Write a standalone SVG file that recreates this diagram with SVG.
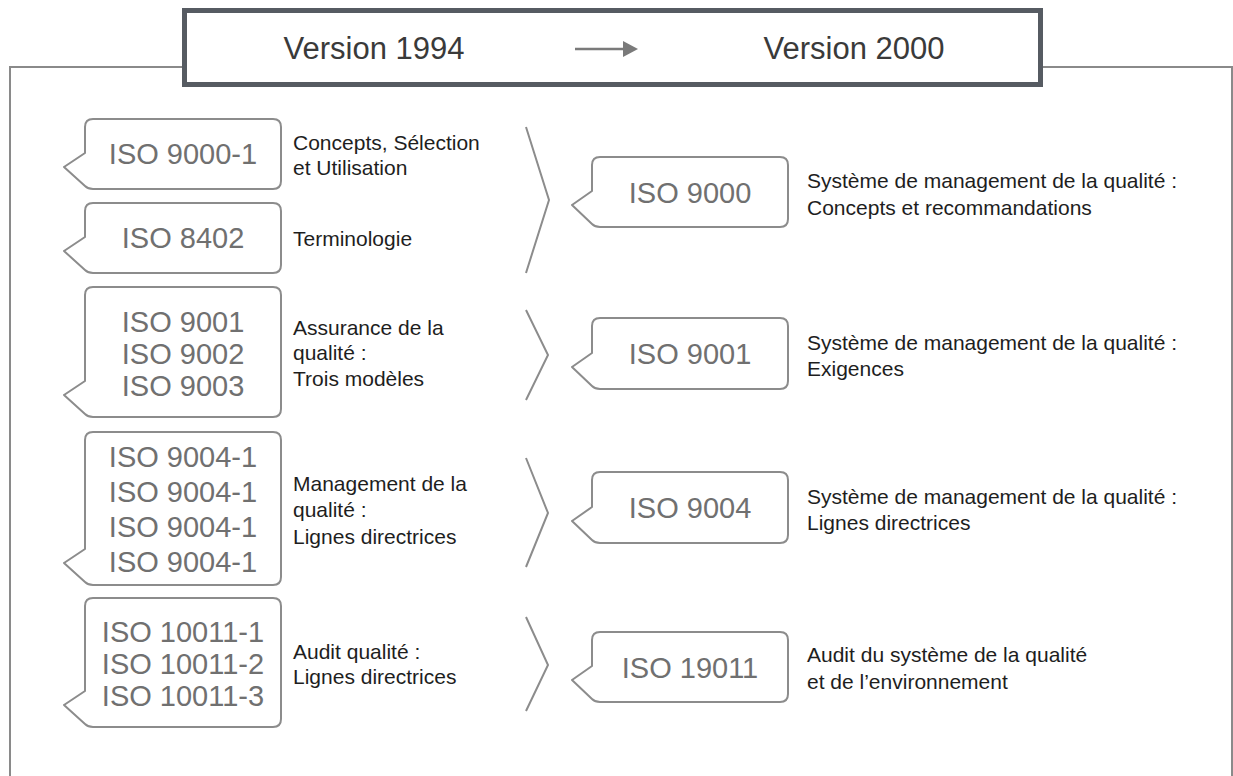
<svg xmlns="http://www.w3.org/2000/svg" width="1233" height="776" viewBox="0 0 1233 776">
<style>
.frame{fill:none;stroke:#8a8a8a;stroke-width:2}
.hdr{fill:#fff;stroke:#565b62;stroke-width:5}
.htx{font-family:"Liberation Sans",Arial,sans-serif;font-size:31px;fill:#3a3a3a;text-anchor:middle}
.co{fill:#fff;stroke:#8c8c8c;stroke-width:2;stroke-linejoin:round}
.ct{font-family:"Liberation Sans",Arial,sans-serif;font-size:29px;fill:#707070;text-anchor:middle}
.dt{font-family:"Liberation Sans",Arial,sans-serif;font-size:21px;fill:#1e1e1e}
.chev{fill:none;stroke:#8c8c8c;stroke-width:2}
.arr{stroke:#7a7a7a;stroke-width:2.5;fill:none}
</style>
<rect class="frame" x="10" y="67" width="1222" height="720"/>
<g id="header">
<rect class="hdr" x="184.5" y="10.5" width="856" height="74"/>
<text class="htx" x="374" y="59">Version 1994</text>
<text class="htx" x="854" y="59">Version 2000</text>
</g>
<g id="connectors">
<line class="arr" x1="575" y1="49" x2="624" y2="49"/>
<path d="M623,41 L638,49 L623,57 Z" fill="#7a7a7a"/>
<polyline class="chev" points="526,127 549,200 526,273"/>
<polyline class="chev" points="526,310 548,355 526,400"/>
<polyline class="chev" points="526,458 548,513 526,567"/>
<polyline class="chev" points="526,617 548,665 526,711"/>
</g>
<g id="old-9000-1">
<path class="co" d="M93,119 H273 Q281,119 281,127 V181 Q281,189 273,189 H93 Q88,189 85,186 L64,167 L85,153 V127 Q85,119 93,119 Z"/>
<text class="ct" x="183" y="164">ISO 9000-1</text>
<text class="dt" x="293" y="150">Concepts, Sélection</text>
<text class="dt" x="293" y="175">et Utilisation</text>
</g>
<g id="old-8402">
<path class="co" d="M93,203 H273 Q281,203 281,211 V265 Q281,273 273,273 H93 Q88,273 85,270 L64,251 L85,237 V211 Q85,203 93,203 Z"/>
<text class="ct" x="183" y="248">ISO 8402</text>
<text class="dt" x="293" y="246">Terminologie</text>
</g>
<g id="old-9001">
<path class="co" d="M93,287 H273 Q281,287 281,295 V409 Q281,417 273,417 H93 Q88,417 85,414 L64,395 L85,381 V295 Q85,287 93,287 Z"/>
<text class="ct" x="183" y="332">ISO 9001</text>
<text class="ct" x="183" y="364">ISO 9002</text>
<text class="ct" x="183" y="396">ISO 9003</text>
<text class="dt" x="293" y="335">Assurance de la</text>
<text class="dt" x="293" y="360">qualité :</text>
<text class="dt" x="293" y="386">Trois modèles</text>
</g>
<g id="old-9004">
<path class="co" d="M93,432 H273 Q281,432 281,440 V577 Q281,585 273,585 H93 Q88,585 85,582 L64,563 L85,549 V440 Q85,432 93,432 Z"/>
<text class="ct" x="183" y="467">ISO 9004-1</text>
<text class="ct" x="183" y="502">ISO 9004-1</text>
<text class="ct" x="183" y="537">ISO 9004-1</text>
<text class="ct" x="183" y="572">ISO 9004-1</text>
<text class="dt" x="293" y="491">Management de la</text>
<text class="dt" x="293" y="517">qualité :</text>
<text class="dt" x="293" y="544">Lignes directrices</text>
</g>
<g id="old-10011">
<path class="co" d="M93,598 H273 Q281,598 281,606 V719 Q281,727 273,727 H93 Q88,727 85,724 L64,705 L85,691 V606 Q85,598 93,598 Z"/>
<text class="ct" x="183" y="642">ISO 10011-1</text>
<text class="ct" x="183" y="674">ISO 10011-2</text>
<text class="ct" x="183" y="706">ISO 10011-3</text>
<text class="dt" x="293" y="659">Audit qualité :</text>
<text class="dt" x="293" y="684">Lignes directrices</text>
</g>
<g id="new-9000">
<path class="co" d="M600,157 H780 Q788,157 788,165 V219 Q788,227 780,227 H600 Q595,227 592,224 L572,205 L592,191 V165 Q592,157 600,157 Z"/>
<text class="ct" x="690" y="203">ISO 9000</text>
<text class="dt" x="807" y="188">Système de management de la qualité :</text>
<text class="dt" x="807" y="215">Concepts et recommandations</text>
</g>
<g id="new-9001">
<path class="co" d="M600,318 H780 Q788,318 788,326 V381 Q788,389 780,389 H600 Q595,389 592,386 L572,367 L592,353 V326 Q592,318 600,318 Z"/>
<text class="ct" x="690" y="364">ISO 9001</text>
<text class="dt" x="807" y="350">Système de management de la qualité :</text>
<text class="dt" x="807" y="376">Exigences</text>
</g>
<g id="new-9004">
<path class="co" d="M600,472 H780 Q788,472 788,480 V535 Q788,543 780,543 H600 Q595,543 592,540 L572,521 L592,507 V480 Q592,472 600,472 Z"/>
<text class="ct" x="690" y="518">ISO 9004</text>
<text class="dt" x="807" y="504">Système de management de la qualité :</text>
<text class="dt" x="807" y="530">Lignes directrices</text>
</g>
<g id="new-19011">
<path class="co" d="M600,632 H780 Q788,632 788,640 V694 Q788,702 780,702 H600 Q595,702 592,699 L572,680 L592,666 V640 Q592,632 600,632 Z"/>
<text class="ct" x="690" y="678">ISO 19011</text>
<text class="dt" x="807" y="662">Audit du système de la qualité</text>
<text class="dt" x="807" y="689">et de l’environnement</text>
</g>
</svg>
